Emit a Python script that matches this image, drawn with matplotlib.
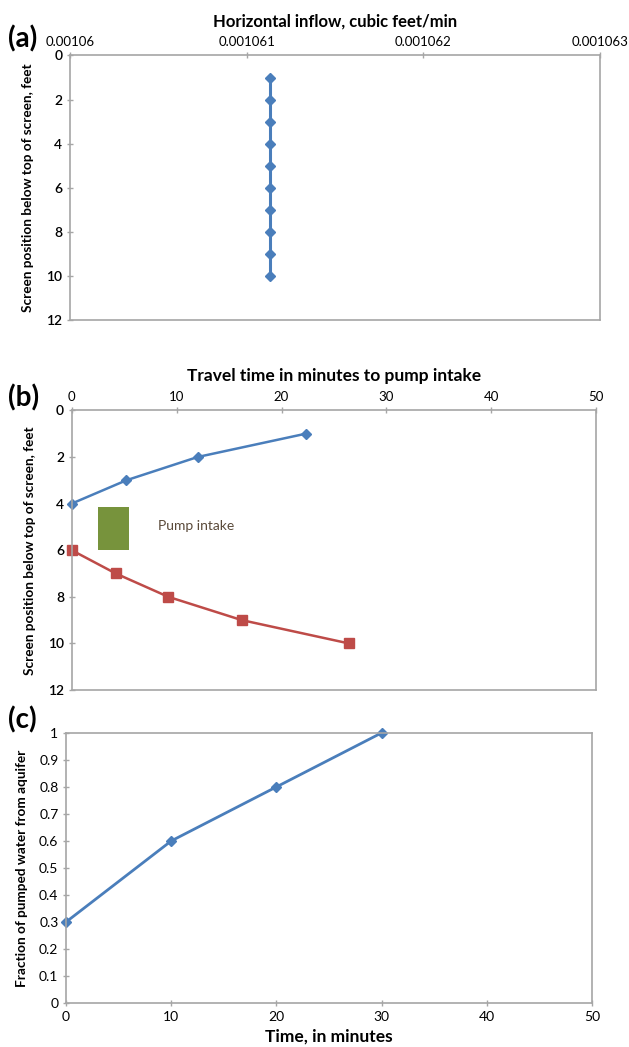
# Three stacked Excel-style panels: inflow profile, travel time, pumped fraction

import numpy as np
import matplotlib
matplotlib.use('Agg')
import matplotlib.pyplot as plt
from matplotlib.patches import Rectangle

plt.rcParams['font.family'] = ['Lato', 'DejaVu Sans']

# panel (a)
inflow = [0.00106113] * 10
depth_a = [1, 2, 3, 4, 5, 6, 7, 8, 9, 10]
inflow_ticks = [0.00106, 0.001061, 0.001062, 0.001063]
inflow_labels = ['0.00106', '0.001061', '0.001062', '0.001063']

# panel (b)
travel_upper = [0, 5.2, 12.0, 22.3]
depth_upper = [4, 3, 2, 1]
travel_lower = [0, 4.2, 9.2, 16.2, 26.4]
depth_lower = [6, 7, 8, 9, 10]
intake_x = (2.5, 5.5)
intake_y = (4.15, 6.0)

# panel (c)
time_c = [0, 10, 20, 30]
fraction = [0.3, 0.6, 0.8, 1.0]

blue = '#4A7EBB'
red = '#BE4B48'
green = '#77933C'
grey = '#A6A6A6'

fig = plt.figure(figsize=(6.29, 10.47), dpi=100)


def excel_style(ax, ysize=10, yweight='semibold'):
    for s in ax.spines.values():
        s.set_color(grey)
        s.set_linewidth(1.2)
    ax.tick_params(colors=grey, labelcolor='black', labelsize=9.5,
                   length=4, width=1, direction='inout')
    for t in ax.get_yticklabels():
        t.set_fontsize(ysize)
        t.set_fontweight(yweight)


# (a)
ax = fig.add_axes([0.111, 0.694, 0.843, 0.253])
ax.plot(inflow, depth_a, color=blue, marker='D', markersize=5.5, linewidth=2.2,
        clip_on=False)
ax.set_xlim(inflow_ticks[0], inflow_ticks[-1])
ax.set_xticks(inflow_ticks)
ax.set_xticklabels(inflow_labels)
ax.set_ylim(12, 0)
ax.set_yticks(np.arange(0, 13, 2))
ax.xaxis.tick_top()
ax.xaxis.set_label_position('top')
excel_style(ax)
ax.set_xlabel('Horizontal inflow, cubic feet/min', fontsize=12, fontweight='bold',
              labelpad=7)
ax.set_ylabel('Screen position below top of screen, feet', fontsize=9.8,
              fontweight='bold', labelpad=9)
fig.text(0.012, 0.963, '(a)', fontsize=20, fontweight='bold', va='center')

# (b)
ax = fig.add_axes([0.114, 0.341, 0.834, 0.267])
ax.add_patch(Rectangle((intake_x[0], intake_y[0]), intake_x[1] - intake_x[0],
                       intake_y[1] - intake_y[0], facecolor=green, edgecolor='none'))
ax.plot(travel_upper, depth_upper, color=blue, marker='D', markersize=5.5,
        linewidth=1.8, clip_on=False)
ax.plot(travel_lower, depth_lower, color=red, marker='s', markersize=7.5,
        linewidth=1.8, clip_on=False)
ax.text(8.2, 4.95, 'Pump intake', fontsize=10, color='#5A4A3A', va='center')
ax.set_xlim(0, 50)
ax.set_xticks(np.arange(0, 51, 10))
ax.set_ylim(12, 0)
ax.set_yticks(np.arange(0, 13, 2))
ax.xaxis.tick_top()
ax.xaxis.set_label_position('top')
excel_style(ax)
ax.set_xlabel('Travel time in minutes to pump intake', fontsize=12.5,
              fontweight='bold', labelpad=7)
ax.set_ylabel('Screen position below top of screen, feet', fontsize=9.8,
              fontweight='bold', labelpad=9)
fig.text(0.012, 0.620, '(b)', fontsize=20, fontweight='bold', va='center')

# (c)
ax = fig.add_axes([0.105, 0.042, 0.836, 0.258])
ax.plot(time_c, fraction, color=blue, marker='D', markersize=5.5, linewidth=2,
        clip_on=False)
ax.set_xlim(0, 50)
ax.set_xticks(np.arange(0, 51, 10))
ax.set_ylim(0, 1)
ax.set_yticks(np.round(np.arange(0, 1.01, 0.1), 1))
ax.set_yticklabels(['0', '0.1', '0.2', '0.3', '0.4', '0.5', '0.6', '0.7', '0.8', '0.9', '1'])
excel_style(ax, ysize=10, yweight='normal')
for t in ax.get_xticklabels():
    t.set_fontsize(10)
ax.set_xlabel('Time, in minutes', fontsize=12.5, fontweight='bold', labelpad=4)
ax.set_ylabel('Fraction of pumped water from aquifer', fontsize=9.8,
              fontweight='bold', labelpad=8)
fig.text(0.012, 0.312, '(c)', fontsize=20, fontweight='bold', va='center')

fig.savefig('out.png', dpi=100)
